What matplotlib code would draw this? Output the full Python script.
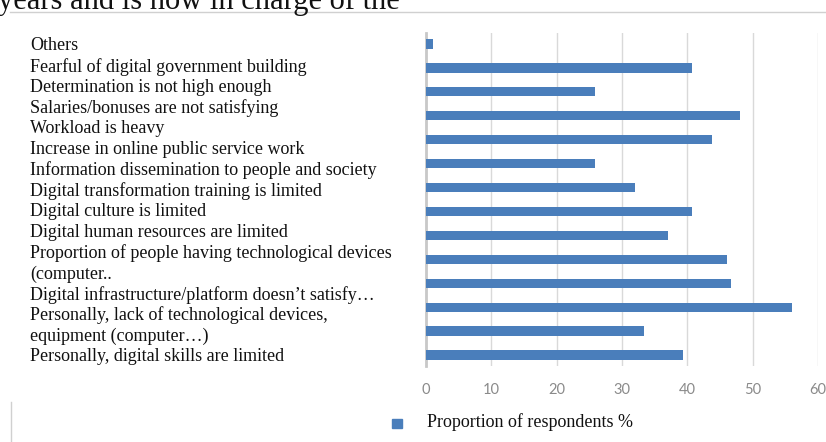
import matplotlib.pyplot as plt
from matplotlib.lines import Line2D

# Reasons (top to bottom, as listed in the chart)
reasons = [
    "Others",
    "Fearful of digital government building",
    "Determination is not high enough",
    "Salaries/bonuses are not satisfying",
    "Workload is heavy",
    "Increase in online public service work",
    "Information dissemination to people and society",
    "Digital transformation training is limited",
    "Digital culture is limited",
    "Digital human resources are limited",
    "Proportion of people having technological devices\n(computer..",
    "Digital infrastructure/platform doesn\u2019t satisfy\u2026",
    "Personally, lack of technological devices,\nequipment (computer\u2026)",
    "Personally, digital skills are limited",
]
# Proportion of respondents % (same order)
share = [1.0, 40.7, 25.8, 48.1, 43.7, 25.8, 32.0, 40.7, 37.1, 46.1, 46.7, 56.0, 33.4, 39.3]
xticks = [0, 10, 20, 30, 40, 50, 60]

W, H = 826, 442
fig = plt.figure(figsize=(W / 100, H / 100), dpi=100)
serif = "Liberation Serif"

# plot area in pixel terms
left, right, top, bottom = 426, 818, 33, 366
ax = fig.add_axes([left / W, 1 - bottom / H, (right - left) / W, (bottom - top) / H])

pos = list(range(len(share)))[::-1]
ax.barh(pos, share, height=0.4, color="#4a7ebb", zorder=3)
ax.set_xlim(0, 60)
ax.set_ylim(-0.45, len(share) - 0.55)
ax.set_xticks(xticks)
ax.set_yticks([])
ax.grid(axis="x", color="#d9d9d9", linewidth=1, zorder=0)
for s in ["top", "right", "bottom"]:
    ax.spines[s].set_visible(False)
ax.spines["left"].set_color("#c8c8c8")
ax.spines["left"].set_linewidth(2)
ax.tick_params(axis="x", length=0, pad=12, labelsize=10.5, labelcolor="#8a8a8a")
for t in ax.get_xticklabels():
    t.set_fontfamily("Lato")

# category text block on the left (separate from bar positions, as in the scan)
lines = []
for r in reasons:
    lines.extend(r.split("\n"))
y0, step = 46, 20.73
for i, ln in enumerate(lines):
    fig.text(30 / W, 1 - (y0 + i * step) / H, ln, fontsize=13, family=serif,
             va="center", ha="left", color="#111111")

# legend
fig.patches.append(plt.Rectangle((392 / W, 1 - 428 / H), 10 / W, 9 / H,
                                 transform=fig.transFigure, color="#4a7ebb"))
fig.text(427 / W, 1 - 422 / H, "Proportion of respondents %", fontsize=13,
         family=serif, va="center", ha="left", color="#111111")

# bits of the surrounding scanned page
fig.text(-2 / W, 1 - 9.5 / H, "years and is now in charge of the", fontsize=22,
         family=serif, va="baseline", ha="left", color="#111111")
fig.add_artist(Line2D([10 / W, 1], [1 - 12 / H, 1 - 12 / H], color="#d0d0d0",
                      linewidth=1, transform=fig.transFigure))
fig.add_artist(Line2D([11 / W, 11 / W], [0, 1 - 402 / H], color="#d0d0d0",
                      linewidth=1, transform=fig.transFigure))

fig.savefig("out.png", dpi=100)
